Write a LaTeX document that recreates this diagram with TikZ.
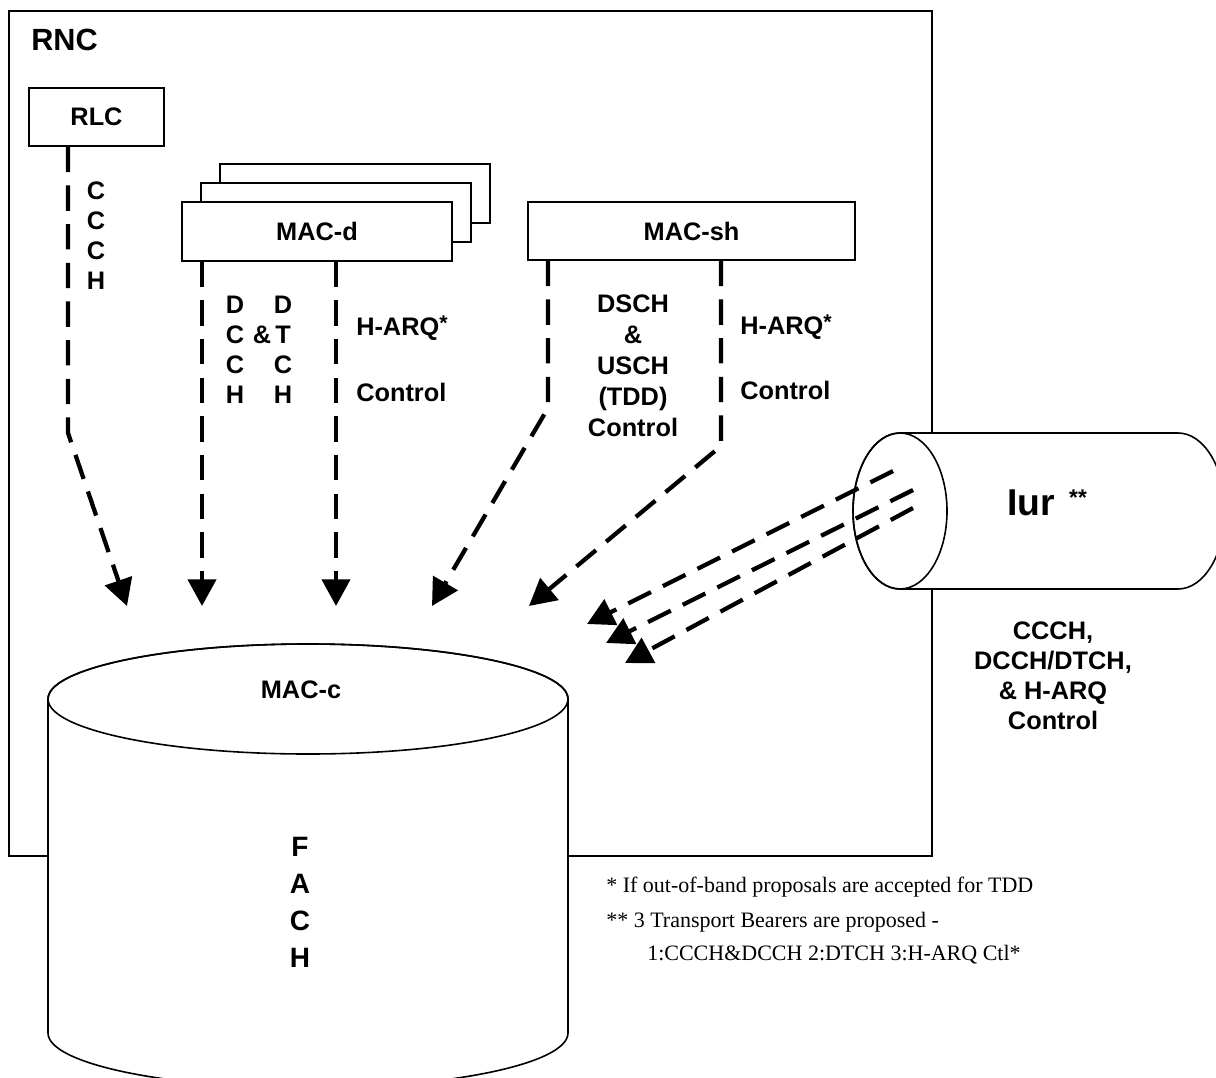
\documentclass[tikz,border=0pt]{standalone}
\usepackage{fontspec}
\setmainfont{Liberation Sans}
\newfontfamily\fnfont{Liberation Serif}
\usetikzlibrary{arrows.meta,calc}
\newcommand{\hstar}{{\fontsize{16}{16}\selectfont\raisebox{3.5pt}{*}}}

\begin{document}
\begin{tikzpicture}[x=0.75pt,y=-0.75pt,
    wall/.style={line width=1.2pt},
    box/.style={draw,line width=1.2pt,fill=white,inner sep=0pt},
    lbl/.style={font=\bfseries\fontsize{19}{22.5}\selectfont,align=center,inner sep=0pt},
    chan/.style={line width=3.2pt,dash pattern=on 19pt off 10pt,
      -{Triangle[length=20pt,width=21pt]}},
    fn/.style={font=\fnfont\fontsize{16.5}{20}\selectfont,anchor=base west,inner sep=0pt}]
  \useasboundingbox (0,0) rectangle (1216,1077);
  % RNC frame
  \draw[wall] (9,11) rectangle (932,856);
  \node[lbl,font=\bfseries\fontsize{23}{27}\selectfont,anchor=west] (rnc) at (31,40) {RNC};
  % MAC-c cylinder
  \draw[wall,fill=white] (48,699) -- (48,1033)
    arc[start angle=180,end angle=360,x radius=195pt,y radius=41.25pt] -- (568,699)
    arc[start angle=0,end angle=180,x radius=195pt,y radius=41.25pt] -- cycle;
  \draw[wall] (308,699) ellipse[x radius=195pt,y radius=41.25pt];
  % Iur cylinder
  \draw[wall,fill=white] (900,433) -- (1178,433)
    arc[start angle=90,end angle=-90,x radius=35.25pt,y radius=58.5pt] -- (900,589)
    arc[start angle=-90,end angle=-270,x radius=35.25pt,y radius=58.5pt] -- cycle;
  \draw[wall] (900,511) ellipse[x radius=35.25pt,y radius=58.5pt];
  % entities
  \node[box,lbl,minimum width=101.25pt,minimum height=43.5pt] (rlc) at (96.5,117) {RLC};
  \foreach \k in {2,1}{
    \node[box,minimum width=202.5pt,minimum height=44.25pt]
         (macd\k) at ({317+19*\k},{231.5-19*\k}) {};
  }
  \node[box,lbl,minimum width=202.5pt,minimum height=44.25pt] (macd) at (317,231.5) {MAC-d};
  \node[box,lbl,minimum width=245.25pt,minimum height=43.5pt] (macsh) at (691.5,231) {MAC-sh};
  % channels into MAC-c
  \coordinate (ccchbend) at (68,433);
  \coordinate (ccchtip) at (127,606);
  \draw[chan] (rlc.south -| ccchbend) -- (ccchbend) -- (ccchtip);
  \coordinate (dcchtip) at (202,606);
  \coordinate (dtchtip) at (336,606);
  \draw[chan] (macd.south -| dcchtip) -- (dcchtip);
  \draw[chan] (macd.south -| dtchtip) -- (dtchtip);
  \coordinate (dschbend) at (548,408);
  \coordinate (dschtip) at (432,606);
  \coordinate (harqbend) at (721,446);
  \coordinate (harqtip) at (529,606);
  \draw[chan] (macsh.south -| dschbend) -- (dschbend) -- (dschtip);
  \draw[chan] (macsh.south -| harqbend) -- (harqbend) -- (harqtip);
  \foreach \n/\sx/\sy/\tx/\ty in {1/893/471/587/624, 2/913/490/606/643, 3/913/508/625/663}{
    \coordinate (iur\n) at (\sx,\sy);
    \coordinate (iurtip\n) at (\tx,\ty);
    \draw[chan] (iur\n) -- (iurtip\n);
  }
  % labels
  \node[lbl] (ccch) at (96,236) {C\\C\\C\\H};
  \node[lbl] (dcch) at (235,350) {D\\C\\C\\H};
  \node[lbl] (amp) at (262,335) {\&};
  \node[lbl] (dtch) at (283,350) {D\\T\\C\\H};
  \node[lbl,anchor=west] (harqd) at (356,328) {H-ARQ\hstar};
  \node[lbl,anchor=west] (ctrld) at (356,392) {Control};
  \node[lbl,font=\bfseries\fontsize{19}{23.25}\selectfont] (dsch) at (633,366)
    {DSCH\\\&\\USCH\\(TDD)\\Control};
  \node[lbl,anchor=west] (harqsh) at (740,327) {H-ARQ\hstar};
  \node[lbl,anchor=west] (ctrlsh) at (740,390) {Control};
  \node[font=\bfseries\fontsize{28}{32}\selectfont,inner sep=0pt] (iur) at (1031,503) {Iur};
  \node[font=\bfseries\fontsize{17}{17}\selectfont,inner sep=0pt] (iurstar) at (1078,498) {**};
  \node[lbl] (iurch) at (1053,676) {CCCH,\\DCCH/DTCH,\\\& H-ARQ\\Control};
  \node[lbl] (macc) at (301,690) {MAC-c};
  \node[lbl,font=\bfseries\fontsize{21}{27.75}\selectfont] (fach) at (300,902) {F\\A\\C\\H};
  % notes
  \node[fn] (fn1) at (606,892) {* If out-of-band proposals are accepted for TDD};
  \node[fn] (fn2) at (606,927) {** 3 Transport Bearers are proposed -};
  \node[fn] (fn3) at (647,960) {1:CCCH\&DCCH 2:DTCH 3:H-ARQ Ctl*};
\end{tikzpicture}
\end{document}
